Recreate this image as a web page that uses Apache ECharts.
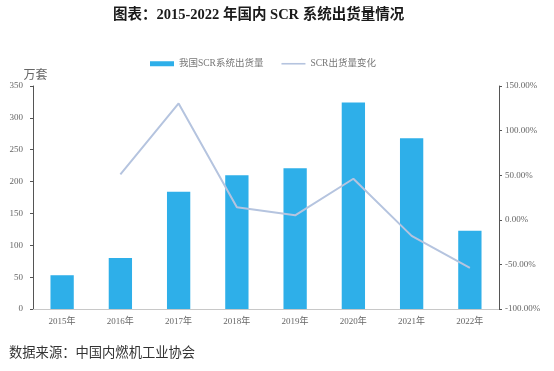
<!DOCTYPE html>
<html><head><meta charset="utf-8">
<script src="https://cdn.jsdelivr.net/npm/echarts@6/dist/echarts.min.js"></script>
<style>html,body{margin:0;padding:0;background:#fff}#c{width:554px;height:371px}</style>
</head><body><div id="c"></div>
<script>
const categories = ['2015年','2016年','2017年','2018年','2019年','2020年','2021年','2022年'];
const shipments = [53, 80, 184, 210, 221, 324, 268, 123];
const changePct = [null, 50.9, 130.5, 14, 5, 46, -18, -54];
const titleText = '图表：2015-2022 年国内 SCR 系统出货量情况';
const sourceText = '数据来源：中国内燃机工业协会';
const unitText = '万套';
const barName = '我国SCR系统出货量';
const lineName = 'SCR出货量变化';

const serif = '"Liberation Serif","Times New Roman","Noto Sans CJK SC",serif';
const chart = echarts.init(document.getElementById('c'));
chart.setOption({
  animation: false,
  title: [
    {text: titleText, left: 113, top: 8, padding: 0, textStyle: {fontFamily: serif, fontSize: 14.5, fontWeight: 'bold', color: '#1a1a1a'}},
    {text: sourceText, left: 9, top: 347, padding: 0, textStyle: {fontFamily: serif, fontSize: 13.3, fontWeight: 'normal', color: '#333'}}
  ],
  legend: {
    top: 54, left: 145, itemGap: 18, itemWidth: 24, itemHeight: 5,
    textStyle: {fontFamily: serif, fontSize: 9.5, color: '#777'},
    data: [{name: barName, icon: 'rect'}, {name: lineName, icon: 'path://M0,0 L24,0 L24,1.6 L0,1.6 Z'}]
  },
  grid: {left: 33, right: 55, top: 86, bottom: 62},
  xAxis: {
    type: 'category', data: categories,
    axisLine: {lineStyle: {color: '#c8c8c8'}},
    axisTick: {show: false},
    axisLabel: {fontFamily: serif, fontSize: 9, color: '#666', margin: 8}
  },
  yAxis: [
    {type: 'value', min: 0, max: 350, interval: 50, name: unitText,
     nameLocation: 'end', nameGap: 4, nameTextStyle: {fontFamily: serif, fontSize: 12, color: '#666', align: 'center', padding: [0, 0, 0, 5]},
     axisLine: {show: true, lineStyle: {color: '#555'}},
     axisTick: {show: true, length: 3, lineStyle: {color: '#555'}},
     splitLine: {show: false},
     axisLabel: {fontFamily: serif, fontSize: 9, color: '#666', margin: 10}},
    {type: 'value', min: -100, max: 150, interval: 50, position: 'right',
     axisLine: {show: true, lineStyle: {color: '#555'}},
     axisTick: {show: true, length: 3, inside: false, lineStyle: {color: '#555'}},
     splitLine: {show: false},
     axisLabel: {fontFamily: serif, fontSize: 9, color: '#666', margin: 6, formatter: v => v.toFixed(2) + '%'}}
  ],
  series: [
    {name: barName, type: 'bar', data: shipments, barWidth: '40%', itemStyle: {color: '#2EAFE9'}},
    {name: lineName, type: 'line', yAxisIndex: 1, data: changePct, symbol: 'none',
     lineStyle: {color: '#B5C4DF', width: 2}, itemStyle: {color: '#B5C4DF'}}
  ]
});
</script></body></html>
